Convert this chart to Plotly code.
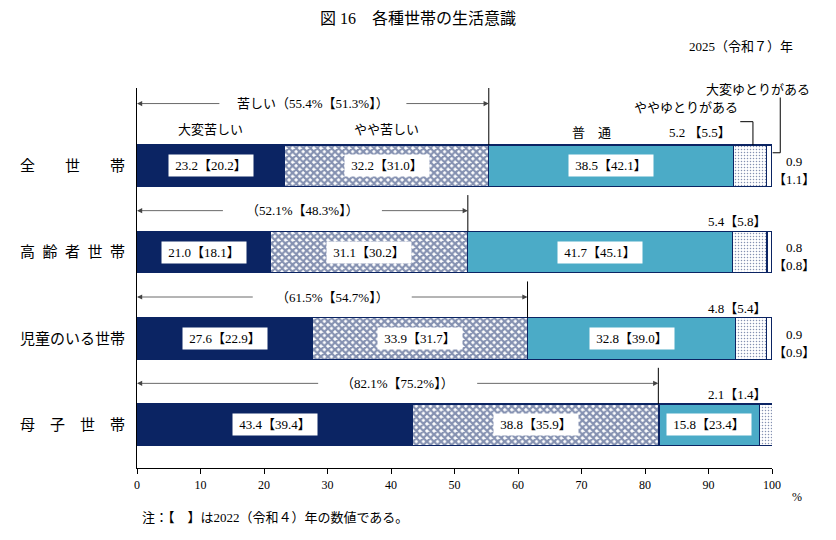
import plotly.graph_objects as go

# --- data (2025, with 2022 values in brackets) ---
households = ['全　　世　　帯', '高\u2002齢\u2002者\u2002世\u2002帯', '児童のいる世帯', '母　子　世　帯']
series_names = ['大変苦しい', 'やや苦しい', '普通', 'ややゆとりがある', '大変ゆとりがある']

very_hard = [23.2, 21.0, 27.6, 43.4]
bit_hard = [32.2, 31.1, 33.9, 38.8]
normal = [38.5, 41.7, 32.8, 15.8]
bit_easy = [5.2, 5.4, 4.8, 2.1]
very_easy = [0.9, 0.8, 0.9, None]

very_hard_22 = [20.2, 18.1, 22.9, 39.4]
bit_hard_22 = [31.0, 30.2, 31.7, 35.9]
normal_22 = [42.1, 45.1, 39.0, 23.4]
bit_easy_22 = [5.5, 5.8, 5.4, 1.4]
very_easy_22 = [1.1, 0.8, 0.9, None]

hard_total = [55.4, 52.1, 61.5, 82.1]
hard_total_22 = [51.3, 48.3, 54.7, 75.2]

NAVY = '#0b2463'
TEAL = '#4babc7'
FONT = 'Liberation Serif, Noto Sans CJK JP'
PX = 6.35  # px per percentage point (plot width 635)

fig = go.Figure()

styles = [
    dict(color=NAVY),
    dict(color='white', pattern=dict(shape='x', fgcolor=NAVY, bgcolor='white', size=5, solidity=0.7)),
    dict(color=TEAL),
    dict(color='white', pattern=dict(shape='.', fgcolor=NAVY, bgcolor='white', size=3, solidity=0.2)),
    dict(color='white'),
]
for name, vals, st in zip(series_names, [very_hard, bit_hard, normal, bit_easy, very_easy], styles):
    fig.add_trace(go.Bar(
        y=households, x=vals, name=name, orientation='h', width=0.48,
        marker=dict(line=dict(color=NAVY, width=1.2), **st),
        hoverinfo='x+name'
    ))

ann = []
shapes = []
txt_font = dict(size=13, color='black', family=FONT)

for i, h in enumerate(households):
    # boxed value labels inside the first three segments
    left = 0
    for vals, prev in [(very_hard, very_hard_22), (bit_hard, bit_hard_22), (normal, normal_22)]:
        ann.append(dict(x=left + vals[i] / 2, y=i, text=' {:.1f}【{:.1f}】 '.format(vals[i], prev[i]),
                        showarrow=False, bgcolor='white', borderpad=3, font=txt_font))
        left += vals[i]
    # ややゆとり label above the bar
    if i == 0:
        ann.append(dict(x=left, y=i - 0.38, text='{:.1f} 【{:.1f}】'.format(bit_easy[i], bit_easy_22[i]),
                        xanchor='right', showarrow=False, font=txt_font))
    else:
        ann.append(dict(x=99.6, y=i - 0.35, text='{:.1f}【{:.1f}】'.format(bit_easy[i], bit_easy_22[i]),
                        xanchor='right', showarrow=False, font=txt_font))
    # 大変ゆとり label right of the bar (paper x, it sits outside the axis range)
    if very_easy[i] is not None:
        ann.append(dict(x=1.034, xref='paper', y=i - 0.05, text='{:.1f}'.format(very_easy[i]),
                        xanchor='center', showarrow=False, font=txt_font))
        ann.append(dict(x=1.034, xref='paper', y=i + 0.16, text='【{:.1f}】'.format(very_easy_22[i]),
                        xanchor='center', showarrow=False, font=txt_font))

    # bracket with arrows for 苦しい total
    tot = hard_total[i]
    mid = tot / 2
    if i == 0:
        txt = '苦しい（{:.1f}%【{:.1f}%】）'.format(tot, hard_total_22[i])
        ya, half = i - 0.72, 92
        y_top = -0.9
    else:
        txt = '（{:.1f}%【{:.1f}%】）'.format(tot, hard_total_22[i])
        ya, half = i - 0.48, 78
        y_top = i - 0.66
    ann.append(dict(x=mid, y=ya, text=txt, showarrow=False, font=txt_font))
    for head, tail in [(0, mid - half / PX), (tot, mid + half / PX)]:
        ann.append(dict(x=head, y=ya, ax=tail, ay=ya, axref='x', ayref='y', text='', showarrow=True,
                        arrowhead=2, arrowsize=1.3, arrowwidth=0.8, arrowcolor='#444'))
    shapes.append(dict(type='line', xref='x', yref='y', x0=tot, x1=tot, y0=y_top, y1=i - 0.24,
                       line=dict(color='black', width=1)))

# column headers over the first bar
ann.append(dict(x=very_hard[0] / 2, y=-0.42, text='大変苦しい', showarrow=False, font=txt_font))
ann.append(dict(x=very_hard[0] + bit_hard[0] / 2, y=-0.42, text='やや苦しい', showarrow=False, font=txt_font))
ann.append(dict(x=71.5, y=-0.38, text='普　通', showarrow=False, font=txt_font))
ann.append(dict(x=95.0, y=-0.67, text='ややゆとりがある', xanchor='right', showarrow=False, font=txt_font))
ann.append(dict(x=1.063, xref='paper', y=-0.88, text='大変ゆとりがある', xanchor='right',
                showarrow=False, font=txt_font))

# leader lines for the two small segments
line = dict(color='black', width=1)
shapes += [
    dict(type='line', xref='x', yref='y', x0=97.0, x1=97.0, y0=-0.24, y1=-0.51, line=line),
    dict(type='line', xref='x', yref='y', x0=97.0, x1=95.0, y0=-0.51, y1=-0.51, line=line),
    dict(type='line', xref='paper', yref='y', x0=1.013, x1=1.013, y0=-0.15, y1=-0.79, line=line),
    dict(type='line', xref='paper', yref='y', x0=1.013, x1=1.001, y0=-0.15, y1=-0.15, line=line),
]

# titles and notes
ann.append(dict(x=0.443, y=1.182, xref='paper', yref='paper', text='図 16　各種世帯の生活意識', showarrow=False,
                xanchor='center', yanchor='middle', font=dict(size=16, color='black', family=FONT)))
ann.append(dict(x=1.036, y=1.108, xref='paper', yref='paper', text='2025（令和７）年', xanchor='right',
                yanchor='middle', showarrow=False, font=txt_font))
ann.append(dict(x=1.04, y=-0.076, xref='paper', yref='paper', text='%', showarrow=False,
                xanchor='center', yanchor='middle', font=dict(size=12, color='black', family=FONT)))
ann.append(dict(x=0.004, y=-0.129, xref='paper', yref='paper', text='注：【　】は2022（令和４）年の数値である。',
                xanchor='left', yanchor='middle', showarrow=False, font=txt_font))

fig.update_layout(
    barmode='stack',
    width=836, height=540,
    margin=dict(l=129, r=72, t=80, b=80),
    paper_bgcolor='white', plot_bgcolor='white',
    showlegend=False,
    annotations=ann,
    shapes=shapes,
    xaxis=dict(range=[0, 100], dtick=10, showgrid=False, zeroline=False, showline=True, linecolor='black',
               linewidth=1.2, ticks='outside', ticklen=5, tickcolor='black', automargin=False,
               tickfont=dict(size=12, color='black', family=FONT)),
    yaxis=dict(type='category', categoryarray=households, range=[3.5, -0.9], showgrid=False, zeroline=False,
               showline=True, linecolor='black', linewidth=1.2, ticks='', ticklabelstandoff=8, automargin=False,
               tickfont=dict(size=15, color='black', family=FONT)),
)

fig.write_html("out.html")
